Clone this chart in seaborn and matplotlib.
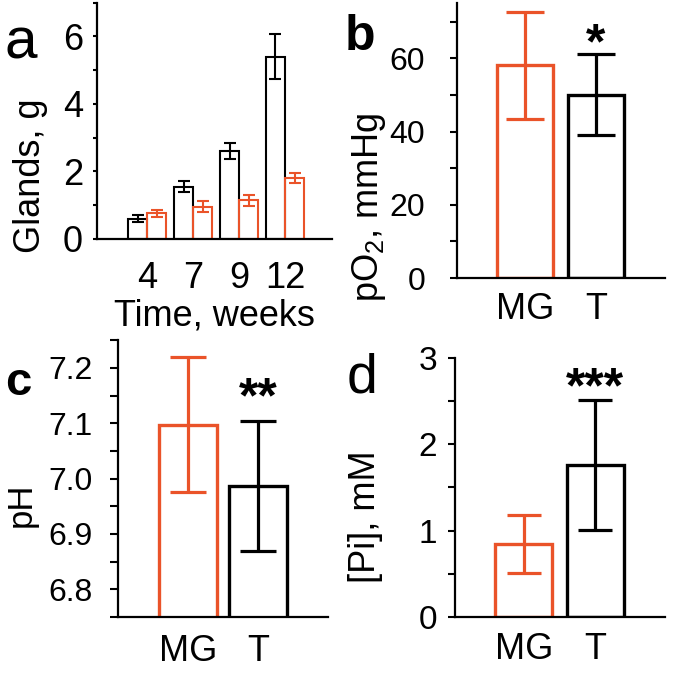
import matplotlib
matplotlib.use('Agg')
import matplotlib.pyplot as plt
from matplotlib.ticker import MultipleLocator
import numpy as np
import pandas as pd
import seaborn as sns

# panel a - gland mass over time
weeks = ['4', '7', '9', '12']
glands_T = [0.6, 1.55, 2.6, 5.4]
glands_T_err = [0.11, 0.16, 0.24, 0.67]
glands_MG = [0.76, 0.96, 1.14, 1.8]
glands_MG_err = [0.1, 0.15, 0.15, 0.15]

# panels b-d
groups = ['MG', 'T']
po2 = [58.1, 50.1]
po2_err = [14.6, 11.0]
ph = [7.097, 6.987]
ph_err = [0.122, 0.118]
pi = [0.845, 1.76]
pi_err = [0.34, 0.75]

RED = '#EA5329'
pal = {'MG': RED, 'T': 'black'}

sns.set_style('ticks')
plt.rcParams['font.family'] = ['Liberation Sans', 'DejaVu Sans']
plt.rcParams['mathtext.fontset'] = 'custom'
plt.rcParams['mathtext.rm'] = 'Liberation Sans'
plt.rcParams['mathtext.it'] = 'Liberation Sans:italic'
plt.rcParams['text.color'] = 'black'
plt.rcParams['axes.labelcolor'] = 'black'
plt.rcParams['xtick.color'] = 'black'
plt.rcParams['ytick.color'] = 'black'

fig = plt.figure(figsize=(6.75, 6.75), dpi=100)


def style_axis(ax, ytick_size, xtick_size, ypad, ylen, xpad, major, minor):
    sns.despine(ax=ax)
    for s in ['left', 'bottom']:
        ax.spines[s].set_linewidth(1.6)
        ax.spines[s].set_color('black')
    ax.yaxis.set_major_locator(MultipleLocator(major))
    ax.yaxis.set_minor_locator(MultipleLocator(minor))
    ax.tick_params(axis='y', which='both', direction='out', length=ylen, width=1.5,
                   labelsize=ytick_size, pad=ypad, colors='black')
    ax.tick_params(axis='x', length=0, labelsize=xtick_size, pad=xpad, colors='black')
    ax.set_xlabel('')
    ax.set_ylabel('')


def two_bars(ax, vals, errs, width, lw, capsize):
    df = pd.DataFrame({'group': groups, 'val': vals})
    sns.barplot(data=df, x='group', y='val', hue='group', palette=pal, fill=False,
                width=width, linewidth=lw, legend=False, errorbar=None, ax=ax)
    for bar, g, v, e in zip(ax.patches, groups, vals, errs):
        xc = bar.get_x() + bar.get_width() / 2
        ax.errorbar(xc, v, yerr=e, fmt='none', ecolor=pal[g], elinewidth=2.3,
                    capsize=capsize, capthick=2.3, zorder=5)


# ---- panel a
axa = fig.add_axes([0.1437, 0.646, 0.348, 0.350])
dfa = pd.DataFrame({
    'week': weeks * 2,
    'group': ['T'] * 4 + ['MG'] * 4,
    'val': glands_T + glands_MG,
})
sns.barplot(data=dfa, x='week', y='val', hue='group', hue_order=['T', 'MG'], order=weeks,
            palette=pal, fill=False, width=0.83, gap=0, linewidth=1.5, legend=False,
            errorbar=None, ax=axa)
for cont, g, vals, errs in zip(axa.containers, ['T', 'MG'],
                               [glands_T, glands_MG], [glands_T_err, glands_MG_err]):
    xs = [b.get_x() + b.get_width() / 2 for b in cont]
    axa.errorbar(xs, vals, yerr=errs, fmt='none', ecolor=pal[g], elinewidth=1.5,
                 capsize=4.5, capthick=1.5, zorder=5)
axa.set_xlim(-1.09, 4.02)
axa.set_ylim(0, 7)
style_axis(axa, 26, 26, 7, 3, 16, 2, 1)
axa.set_xlabel('Time, weeks', fontsize=26, labelpad=2)
axa.set_ylabel('Glands, g', fontsize=26)
axa.yaxis.set_label_coords(-0.209, 0.267)

# ---- panel b
axb = fig.add_axes([0.677, 0.588, 0.308, 0.407])
two_bars(axb, po2, po2_err, 0.8, 2.4, 14)
axb.set_xlim(-0.96, 1.97)
axb.set_ylim(0, 75)
style_axis(axb, 23, 26, 18, 5, 10, 20, 10)
axb.set_ylabel('pO$_2$, mmHg', fontsize=26)
axb.yaxis.set_label_coords(-0.33, 0.258)
axb.text(1, 63.5, '*', fontsize=36, fontweight='bold', ha='center', va='center')

# ---- panel c
axc = fig.add_axes([0.175, 0.0859, 0.311, 0.410])
two_bars(axc, ph, ph_err, 0.83, 2.4, 13)
axc.set_xlim(-1.0, 2.0)
axc.set_ylim(6.75, 7.25)
style_axis(axc, 23, 26, 12, 6, 12, 0.1, 0.05)
axc.yaxis.set_major_formatter(plt.FormatStrFormatter('%.1f'))
axc.set_ylabel('pH', fontsize=25)
axc.yaxis.set_label_coords(-0.381, 0.404)
axc.text(1, 7.144, '**', fontsize=36, fontweight='bold', ha='center', va='center')

# ---- panel d
axd = fig.add_axes([0.674, 0.0859, 0.311, 0.384])
two_bars(axd, pi, pi_err, 0.8, 2.4, 12)
axd.set_xlim(-0.96, 1.97)
axd.set_ylim(0, 3)
style_axis(axd, 24, 26, 8, 5, 11, 1, 0.5)
axd.set_ylabel('[Pi], mM', fontsize=26)
axd.yaxis.set_label_coords(-0.343, 0.386)
axd.text(1, 2.63, '***', fontsize=36, fontweight='bold', ha='center', va='center')

# panel letters
fig.text(0.007, 0.914, 'a', fontsize=42, va='baseline')
fig.text(0.511, 0.926, 'b', fontsize=36, fontweight='bold', va='baseline')
fig.text(0.007, 0.415, 'c', fontsize=34, fontweight='bold', va='baseline')
fig.text(0.514, 0.418, 'd', fontsize=40, va='baseline')

fig.savefig('out.png', dpi=100)
